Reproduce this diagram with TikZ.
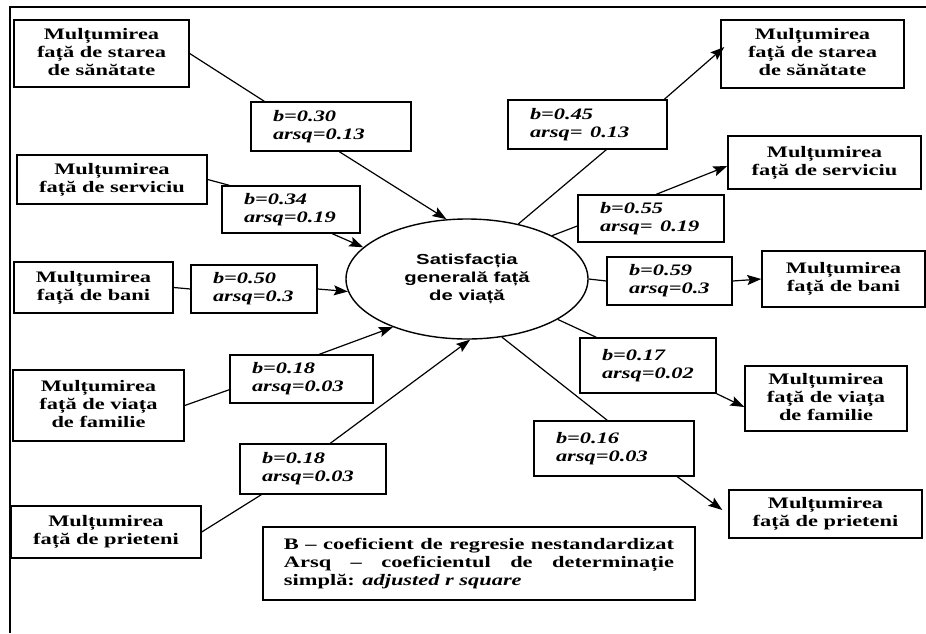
\documentclass[tikz,border=0pt]{standalone}
\usepackage{fontspec}
\usepackage{graphicx}
\setmainfont{Liberation Serif}
\newfontfamily\ellfont{Liberation Sans}
\usetikzlibrary{arrows.meta,calc,shapes.geometric}
\newcommand\sxc[1]{\scalebox{1.4}[1]{\begin{tabular}{@{}c@{}}#1\end{tabular}}}
\newcommand\sxl[1]{\scalebox{1.4}[1]{\begin{tabular}{@{}l@{}}#1\end{tabular}}}
\begin{document}
\begin{tikzpicture}[x=1pt,y=-1pt,
  title/.style={draw, line width=1.4pt, font=\bfseries\fontsize{16}{18}\selectfont, inner sep=0pt},
  lbl/.style={draw, line width=1.4pt, font=\bfseries\itshape\fontsize{16}{18}\selectfont, align=left, inner xsep=22pt, inner ysep=0pt},
  conn/.style={line width=1.2pt},
  arr/.style={line width=1.2pt, -{Stealth[length=14pt,width=10pt,inset=2.5pt]}}]
\useasboundingbox (0,0) rectangle (926,633);
% frame
\coordinate (ftl) at (10,7);
\coordinate (ftr) at (926,7);
\coordinate (fbl) at (10,633);
\draw[line width=1.4pt] (ftr) -- (ftl) -- (fbl);
% central ellipse
\node[draw, ellipse, line width=1.4pt, minimum width=242pt, minimum height=120pt, inner sep=0pt,
  font=\ellfont\bfseries\fontsize{14.5}{18}\selectfont] (E) at (467,279)
  {\raisebox{7pt}{\sxc{Satisfacția\\generală față\\de viață}}};
% left boxes
\node[title, minimum width=175pt, minimum height=67pt] (L1) at (101.5,53.5) {\sxc{Mulțumirea\\față de starea\\de sănătate}};
\node[title, minimum width=190pt, minimum height=49pt] (L2) at (112,179.5) {\sxc{Mulțumirea\\față de serviciu}};
\node[title, minimum width=159pt, minimum height=51pt] (L3) at (93.5,287.5) {\sxc{Mulțumirea\\față de bani}};
\node[title, minimum width=171pt, minimum height=71pt] (L4) at (98.5,405.5) {\sxc{Mulțumirea\\față de viața\\de familie}};
\node[title, minimum width=190pt, minimum height=52pt] (L5) at (106,532) {\sxc{Mulțumirea\\față de prieteni}};
% left labels
\node[lbl, text width=116pt, minimum height=49pt] (B1) at (331,126.5) {\sxl{b=0.30\\arsq=0.13}};
\node[lbl, text width=94pt, minimum height=47pt] (B2) at (291,209.5) {\sxl{b=0.34\\arsq=0.19}};
\node[lbl, text width=82pt, minimum height=48pt] (B3) at (254,289) {\sxl{b=0.50\\arsq=0.3}};
\node[lbl, text width=99pt, minimum height=48pt] (B4) at (301.5,379) {\sxl{b=0.18\\arsq=0.03}};
\node[lbl, text width=102pt, minimum height=50pt] (B5) at (313,469) {\sxl{b=0.18\\arsq=0.03}};
% right boxes
\node[title, minimum width=183pt, minimum height=68pt] (R1) at (812.5,54) {\sxc{Mulțumirea\\față de starea\\de sănătate}};
\node[title, minimum width=193pt, minimum height=53pt] (R2) at (824.5,162.5) {\sxc{Mulțumirea\\față de serviciu}};
\node[title, minimum width=163pt, minimum height=56pt] (R3) at (843.5,279) {\sxc{Mulțumirea\\față de bani}};
\node[title, minimum width=162pt, minimum height=65pt] (R4) at (826,398.5) {\sxc{Mulțumirea\\față de viața\\de familie}};
\node[title, minimum width=193pt, minimum height=48pt] (R5) at (825.5,514) {\sxc{Mulțumirea\\față de prieteni}};
% right labels
\node[lbl, text width=115pt, minimum height=49pt] (C1) at (587.5,124.5) {\sxl{b=0.45\\arsq= 0.13}};
\node[lbl, text width=102pt, minimum height=47pt] (C2) at (651,218.5) {\sxl{b=0.55\\arsq= 0.19}};
\node[lbl, text width=81pt, minimum height=48pt] (C3) at (669.5,281) {\sxl{b=0.59\\arsq=0.3}};
\node[lbl, text width=92pt, minimum height=55pt] (C4) at (648,365.5) {\sxl{b=0.17\\arsq=0.02}};
\node[lbl, text width=116pt, minimum height=55pt] (C5) at (614,448.5) {\sxl{b=0.16\\arsq=0.03}};
% legend
\node[draw, line width=1.4pt, font=\bfseries\fontsize{16}{18}\selectfont, inner sep=0pt,
  minimum width=432pt, minimum height=73pt] (LG) at (479,563.5)
  {\scalebox{1.4}[1]{\parbox{278.6pt}{\tolerance=10000\hbadness=10000\parindent=0pt
   B – coeficient de regresie nestandardizat\linebreak Arsq – coeficientul de determinație\linebreak simplă: \textit{adjusted r square}}}};
% left connectors
\draw[conn] (L1.east) -- ($(B1.north west)+(14,0)$);
\draw[arr] ($(B1.south west)+(89,0)$) -- (E.109);
\draw[conn] (L2.east) -- ($(B2.north west)+(8,0)$);
\draw[arr] ($(B2.south west)+(111,0)$) -- (E.163);
\draw[conn] (L3.east) -- (B3.west);
\draw[arr] (B3.east) -- (E.186);
\draw[conn] (L4.east) -- ($(B4.south west)+(0,-14)$);
\draw[arr] ($(B4.north west)+(90,0)$) -- (E.213);
\draw[conn] (L5.east) -- ($(B5.south west)+(22,0)$);
\draw[arr] ($(B5.north west)+(91,0)$) -- (E.273);
% right connectors
\draw[conn] (E.47) -- ($(C1.south west)+(99,0)$);
\draw[arr] ($(C1.north west)+(157,0)$) -- ($(R1.west)+(4,-7)$);
\draw[conn] (E.27) -- ($(C2.west)+(0,7.5)$);
\draw[arr] ($(C2.north west)+(79,0)$) -- ($(R2.west)+(0,3.5)$);
\draw[conn] (E.east) -- (C3.west);
\draw[arr] (C3.east) -- (R3.west);
\draw[conn] (E.336) -- ($(C4.north west)+(17,0)$);
\draw[arr] (C4.south east) -- ($(R4.west)+(0,8.5)$);
\draw[conn] (E.301) -- ($(C5.north west)+(74,0)$);
\draw[arr] ($(C5.south west)+(144,0)$) -- ($(R5.west)+(-6,-4)$);
\end{tikzpicture}
\end{document}
